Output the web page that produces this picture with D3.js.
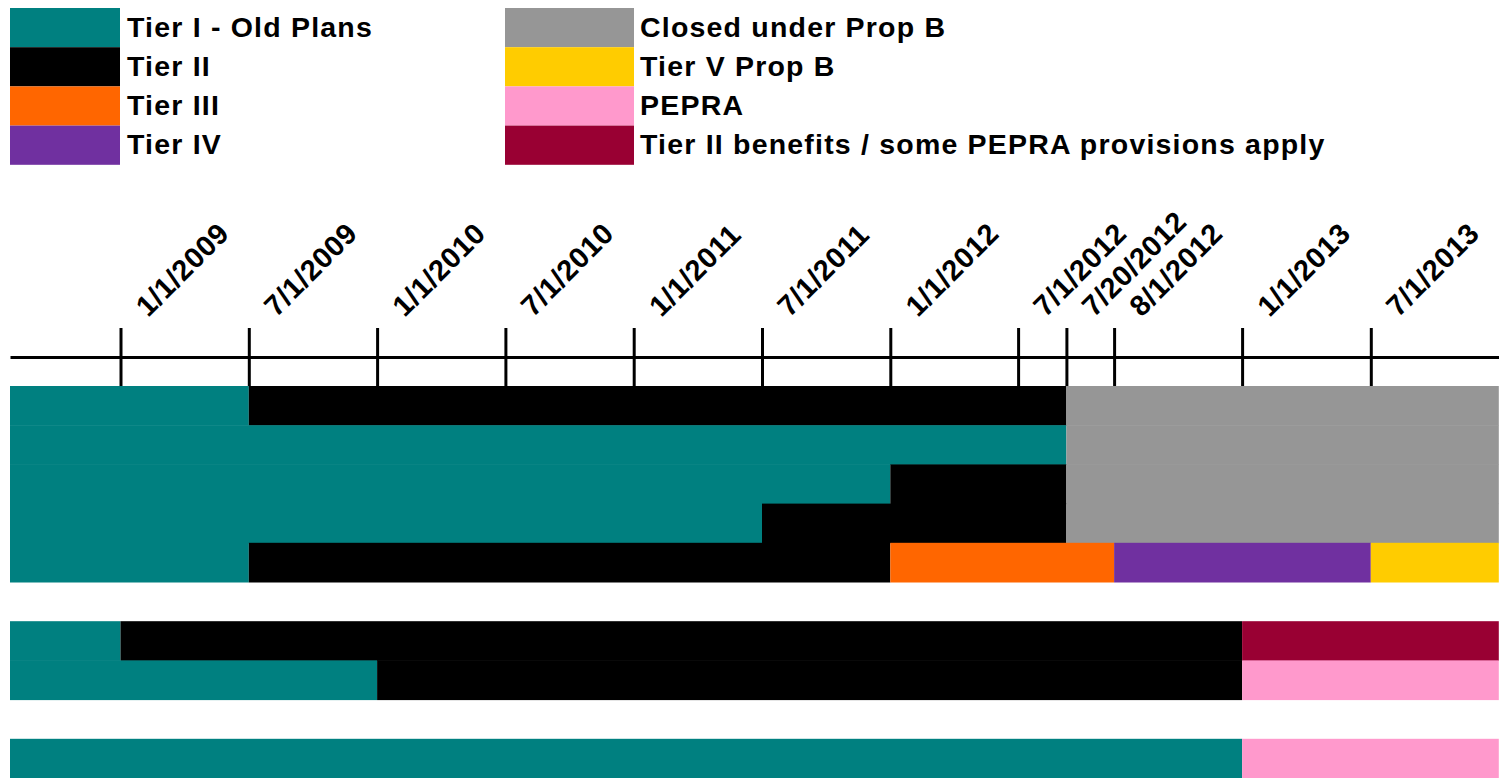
<!DOCTYPE html>
<html>
<head>
<meta charset="utf-8">
<script src="https://cdn.jsdelivr.net/npm/d3@7"></script>
<style>
  body { margin: 0; background: #fff; }
  text { font-family: Arial, "Liberation Sans", sans-serif; font-weight: bold; }
</style>
</head>
<body>
<svg id="chart"></svg>
<script>
// Legend entries (two columns of four)
const tiers = [
  'Tier I - Old Plans', 'Tier II', 'Tier III', 'Tier IV',
  'Closed under Prop B', 'Tier V Prop B', 'PEPRA', 'Tier II benefits / some PEPRA provisions apply',
];
const tierColors = ['#008080', '#000000', '#ff6600', '#7030a0', '#969696', '#ffcc00', '#ff99cc', '#990033'];

// Timeline breakpoints: start of the sheet, labelled dates, end of the sheet
const timelineStart = '2008-08-01';
const tickDates = [
  '2009-01-01', '2009-07-01', '2010-01-01', '2010-07-01', '2011-01-01', '2011-07-01',
  '2012-01-01', '2012-07-01', '2012-07-20', '2012-08-01', '2013-01-01', '2013-07-01',
];
const timelineEnd = '2014-01-01';

// Segments: [row, from, to, tier index]
const segments = [
  [0, timelineStart, '2009-07-01', 0], [0, '2009-07-01', '2012-07-20', 1], [0, '2012-07-20', timelineEnd, 4],
  [1, timelineStart, '2012-07-20', 0], [1, '2012-07-20', timelineEnd, 4],
  [2, timelineStart, '2012-01-01', 0], [2, '2012-01-01', '2012-07-20', 1], [2, '2012-07-20', timelineEnd, 4],
  [3, timelineStart, '2011-07-01', 0], [3, '2011-07-01', '2012-07-20', 1], [3, '2012-07-20', timelineEnd, 4],
  [4, timelineStart, '2009-07-01', 0], [4, '2009-07-01', '2012-01-01', 1], [4, '2012-01-01', '2012-08-01', 2],
  [4, '2012-08-01', '2013-07-01', 3], [4, '2013-07-01', timelineEnd, 5],
  [6, timelineStart, '2009-01-01', 0], [6, '2009-01-01', '2013-01-01', 1], [6, '2013-01-01', timelineEnd, 7],
  [7, timelineStart, '2010-01-01', 0], [7, '2010-01-01', '2013-01-01', 1], [7, '2013-01-01', timelineEnd, 6],
  [9, timelineStart, '2013-01-01', 0], [9, '2013-01-01', timelineEnd, 6],
];

const width = 1499, height = 778;
const parse = d3.utcParse('%Y-%m-%d');
const fmt = d3.utcFormat('%-m/%-d/%Y');

// Sheet columns are not proportional to time: each gap between breakpoints
// has its own width (half-years wide, the July 2012 steps narrow)
const colWidths = [110.5, 128.3, 128.3, 128.3, 128.3, 128.3, 128.3, 127.8, 48.3, 47.7, 128, 128.7, 128];
const xRange = [10];
colWidths.forEach(w => xRange.push(xRange[xRange.length - 1] + w));

const x = d3.scaleUtc()
  .domain([timelineStart, ...tickDates, timelineEnd].map(parse))
  .range(xRange);

const rows = d3.scaleBand()
  .domain(d3.range(10))
  .range([386, 778]);

const svg = d3.select('#chart')
  .attr('width', width)
  .attr('height', height);

// Legend

const legend = svg.append('g');
const swatchH = 39.2;

const entries = legend.selectAll('g')
  .data(tiers)
  .join('g')
  .attr('transform', (d, i) => `translate(${i < 4 ? 10 : 505}, ${8 + (i % 4) * swatchH})`);

entries.append('rect')
  .attr('width', (d, i) => i < 4 ? 110 : 129)
  .attr('height', swatchH)
  .attr('fill', (d, i) => tierColors[i]);

entries.append('text')
  .attr('x', (d, i) => i < 4 ? 117 : 135)
  .attr('y', 28.5)
  .style('font-size', '28.5px')
  .style('letter-spacing', '1.2px')
  .text(d => d);

// Bars

svg.append('g')
  .selectAll('rect')
  .data(segments)
  .join('rect')
  .attr('x', d => x(parse(d[1])))
  .attr('y', d => rows(d[0]))
  .attr('width', d => x(parse(d[2])) - x(parse(d[1])))
  .attr('height', rows.bandwidth() + 0.5)
  .attr('fill', d => tierColors[d[3]]);

// Axis with ticks crossing the line

const axis = svg.append('g')
  .attr('transform', 'translate(0, 357)')
  .call(d3.axisTop(x)
    .tickValues(tickDates.map(parse))
    .tickFormat(fmt)
    .tickSizeOuter(0));

axis.select('.domain')
  .attr('stroke', '#000')
  .attr('stroke-width', 3);

axis.selectAll('.tick line')
  .attr('y1', -29)
  .attr('y2', 29)
  .attr('stroke', '#000')
  .attr('stroke-width', 3);

axis.selectAll('.tick text')
  .attr('x', null)
  .attr('y', null)
  .attr('dy', null)
  .attr('text-anchor', 'start')
  .attr('transform', 'translate(27, -39) rotate(-45)')
  .attr('fill', '#000')
  .style('font-size', '29px')
  .style('font-family', 'Arial, "Liberation Sans", sans-serif')
  .style('letter-spacing', '0.5px');
</script>
</body>
</html>
